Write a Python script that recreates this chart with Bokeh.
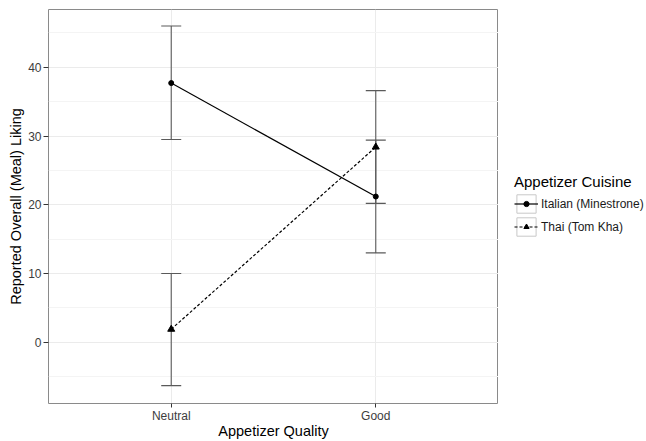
from bokeh.plotting import figure
from bokeh.layouts import row
from bokeh.models import (ColumnDataSource, Whisker, TeeHead, FactorRange, Range1d,
                          FixedTicker, Legend, LegendItem)
from bokeh.embed import file_html
from bokeh.resources import INLINE

# ---- data ----
quality = ["Neutral", "Good"]
cuisines = ["Italian (Minestrone)", "Thai (Tom Kha)"]
italian_mean = [37.7, 21.2]
italian_lower = [29.5, 13.0]
italian_upper = [46.0, 29.4]
thai_mean = [1.9, 28.4]
thai_lower = [-6.3, 20.2]
thai_upper = [10.0, 36.6]
y_ticks = [0, 10, 20, 30, 40]
y_minor = [-5, 5, 15, 25, 35, 45]

FONT = "Liberation Sans"
H = 441

p = figure(width=498, height=H,
           x_range=FactorRange(*quality, range_padding=0.1, range_padding_units="absolute"),
           y_range=Range1d(-8.9, 48.4),
           output_backend="svg", toolbar_location=None,
           min_border_left=48, min_border_right=0, min_border_top=9, min_border_bottom=30)

p.background_fill_color = "white"
p.border_fill_color = "white"
p.outline_line_color = "#8a8a8a"
p.outline_line_width = 1

p.xgrid.grid_line_color = "#ebebeb"
p.ygrid.grid_line_color = "#ebebeb"
p.ygrid.minor_grid_line_color = "#f4f4f4"
p.yaxis.ticker = FixedTicker(ticks=y_ticks, minor_ticks=y_minor)

for ax in (p.xaxis[0], p.yaxis[0]):
    ax.axis_line_color = None
    ax.major_tick_line_color = "#333333"
    ax.major_tick_out = 5
    ax.major_tick_in = 0
    ax.minor_tick_line_color = None
    ax.major_label_text_font = FONT
    ax.major_label_text_font_size = "12px"
    ax.major_label_text_color = "#3d3d3d"
    ax.major_label_standoff = 2
    ax.axis_label_text_font = FONT
    ax.axis_label_text_font_size = "14.5px"
    ax.axis_label_text_font_style = "normal"
    ax.axis_label_text_color = "black"
    ax.axis_label_standoff = 1

p.xaxis.major_label_standoff = 1
p.xaxis.axis_label_standoff = -3
p.xaxis.major_tick_out = 4

p.xaxis.axis_label = "Appetizer Quality"
p.yaxis.axis_label = "Reported Overall (Meal) Liking"

# legend panel (separate figure at the right)
lg = figure(width=148, height=H, x_axis_type=None, y_axis_type=None,
            x_range=Range1d(0, 1), y_range=Range1d(0, 1),
            output_backend="svg", toolbar_location=None,
            min_border_left=0, min_border_right=0, min_border_top=0, min_border_bottom=0)
lg.outline_line_color = None
lg.xgrid.visible = False
lg.ygrid.visible = False

series = [
    (cuisines[0], italian_mean, italian_lower, italian_upper, None, "circle", 5),
    (cuisines[1], thai_mean, thai_lower, thai_upper, "3 2", "triangle", 7),
]

box_items, key_items = [], []
for name, mean, lo, hi, dash, marker, size in series:
    src = ColumnDataSource(dict(x=quality, mean=mean, lower=lo, upper=hi))
    kw = {} if dash is None else {"line_dash": dash}
    p.line(x="x", y="mean", source=src, line_color="black", line_width=1.2, **kw)
    p.scatter(x="x", y="mean", source=src, marker=marker, size=size,
              fill_color="black", line_color="black")
    w = Whisker(source=src, base="x", upper="upper", lower="lower",
                line_color="#5a5a5a", line_width=1.1,
                upper_head=TeeHead(size=20, line_color="#5a5a5a", line_width=1.1),
                lower_head=TeeHead(size=20, line_color="#5a5a5a", line_width=1.1))
    p.add_layout(w)
    # legend key glyphs (placed outside the visible range of the legend panel)
    off = ColumnDataSource(dict(x=[-10, -11], y=[-10, -11]))
    box = lg.rect(x="x", y="y", source=off, width=0.1, height=0.1, fill_color="white",
                  line_color="#c8c8c8", line_width=1)
    ln = lg.line(x="x", y="y", source=off, line_color="black", line_width=1.2, **kw)
    sc = lg.scatter(x="x", y="y", source=off, marker=marker, size=size,
                    fill_color="black", line_color="black")
    box_items.append(LegendItem(label=name, renderers=[box]))
    key_items.append(LegendItem(label=name, renderers=[ln, sc]))

common = dict(title="Appetizer Cuisine", orientation="vertical",
              glyph_width=24, spacing=0, padding=0, margin=0,
              label_standoff=3, label_height=23,
              label_text_font=FONT, label_text_font_size="12px",
              title_text_font=FONT, title_text_font_size="15px",
              title_text_font_style="normal", title_standoff=2,
              border_line_color=None, background_fill_alpha=0)

legend_box = Legend(items=box_items, location=(16, 165), glyph_height=23,
                    label_text_color="#1a1a1a", title_text_color="black", **common)
legend_key = Legend(items=key_items, location=(16, 165), glyph_height=13,
                    label_text_alpha=0, title_text_alpha=0, **common)
lg.add_layout(legend_box)
lg.add_layout(legend_key)

layout = row(p, lg, spacing=0)
open("out.html", "w").write(file_html(layout, INLINE))
